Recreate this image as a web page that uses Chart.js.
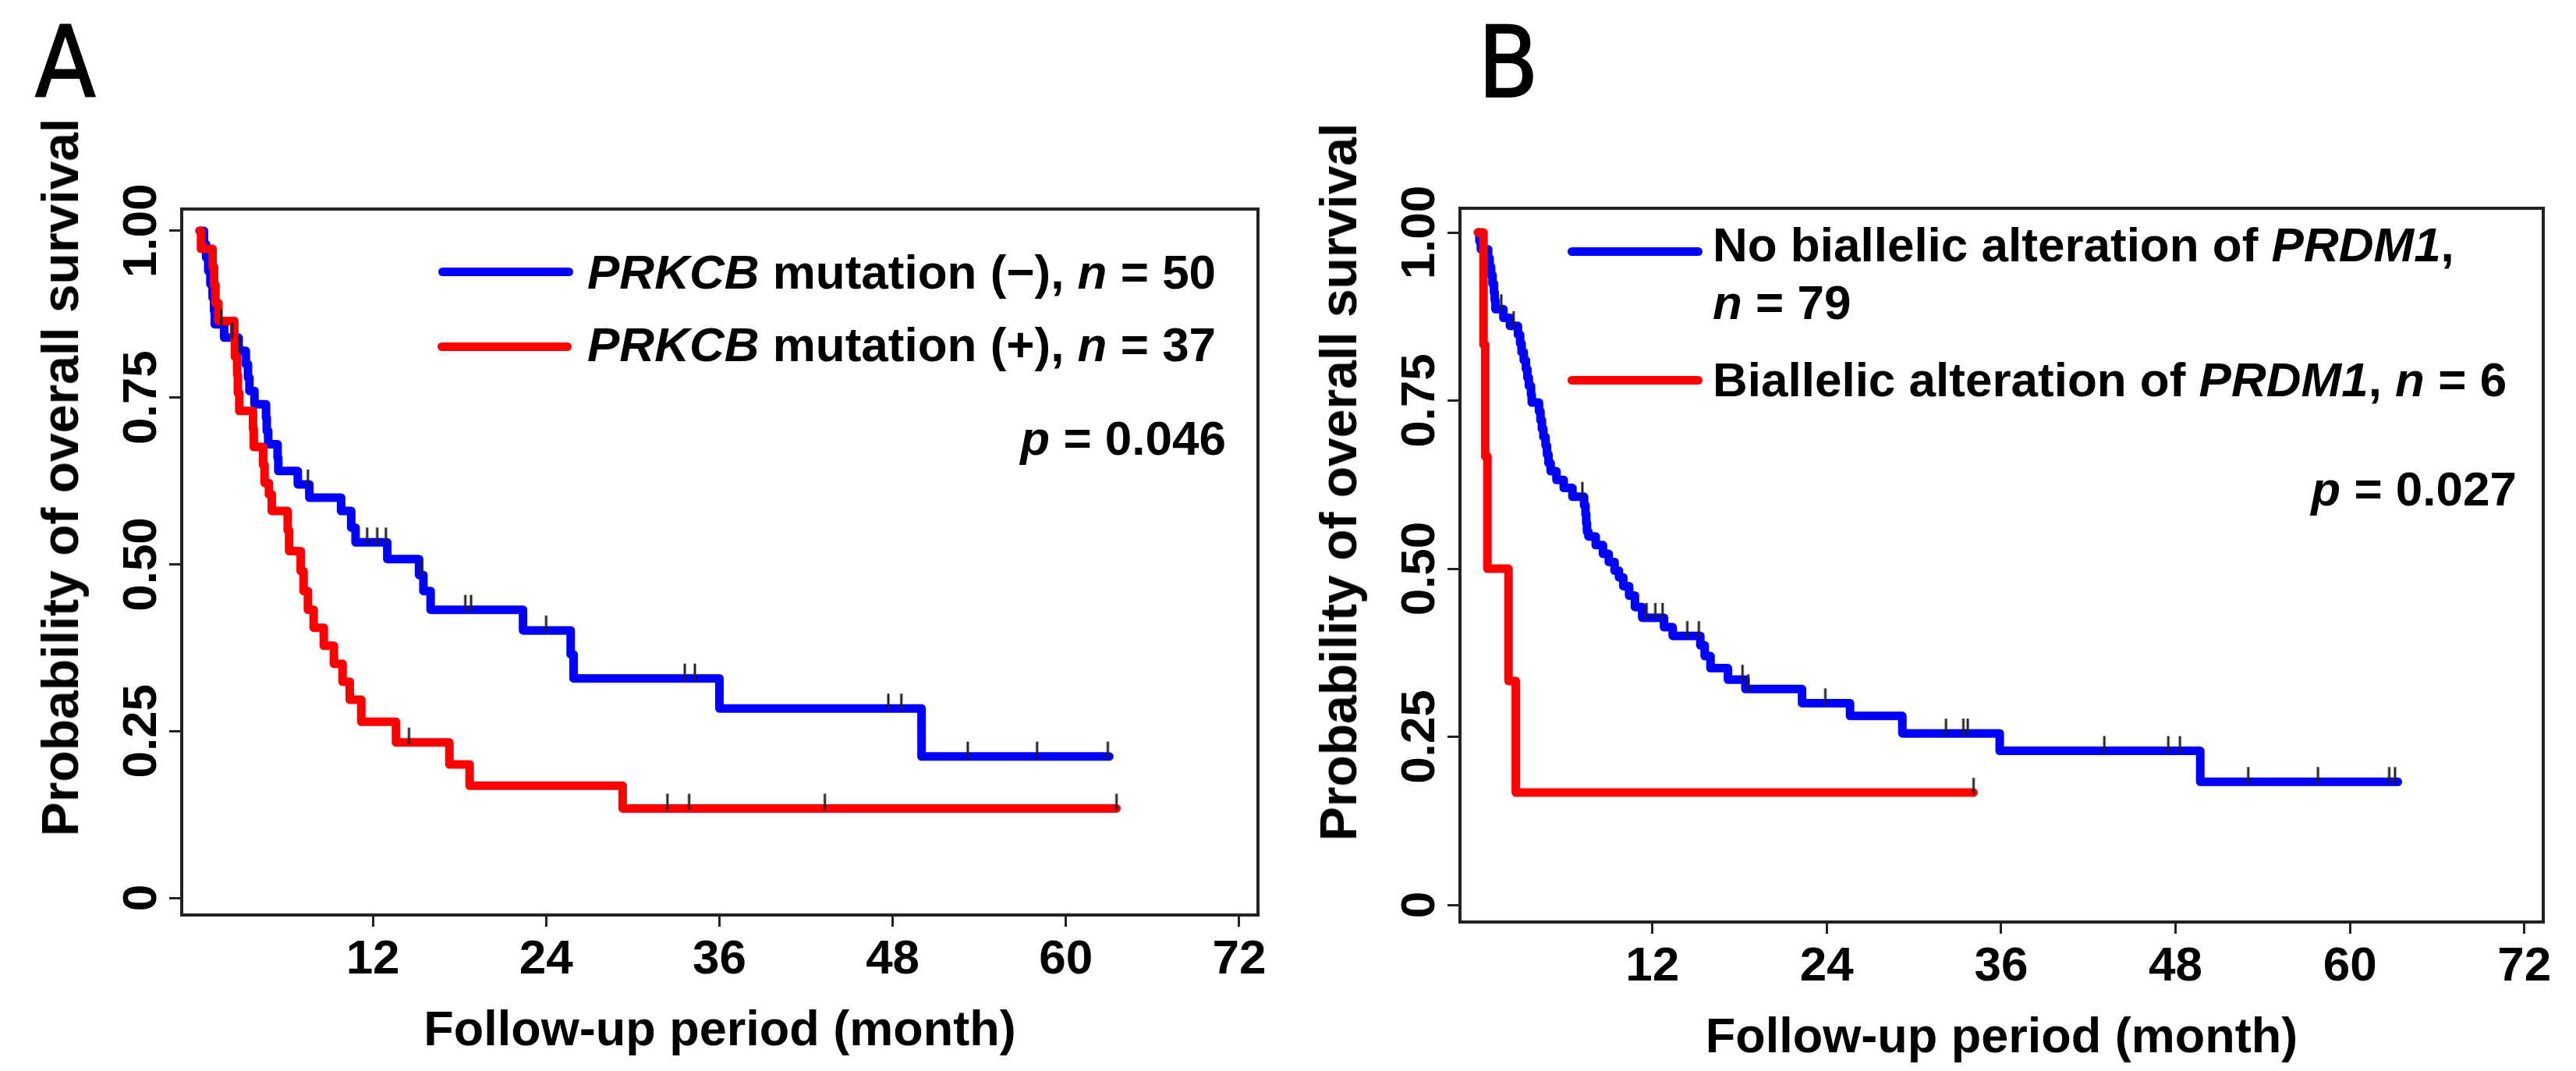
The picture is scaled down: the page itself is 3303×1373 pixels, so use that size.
<!DOCTYPE html>
<html>
<head>
<meta charset="utf-8">
<title>Overall survival</title>
<script src="https://cdn.jsdelivr.net/npm/chart.js@4.4.1/dist/chart.umd.min.js"></script>
<style>
html, body { margin: 0; padding: 0; background: #fff; }
#page { position: relative; width: 3303px; height: 1373px; overflow: hidden; background: #fff;
  font-family: "Liberation Sans", Arial, Helvetica, sans-serif; color: #000; }
.t { position: absolute; white-space: nowrap; font-size: 62px; line-height: 62px; font-weight: bold; }
.yt { position: absolute; white-space: nowrap; font-size: 66px; line-height: 66px; font-weight: bold;
  transform: translate(-50%, -50%) rotate(-90deg); }
.sw { position: absolute; height: 11px; border-radius: 6px; }
.lab { position: absolute; white-space: nowrap; font-family: "Liberation Sans Narrow", "DejaVu Sans Condensed", "Liberation Sans", sans-serif;
  font-stretch: condensed; font-size: 126px; line-height: 126px; font-weight: normal; -webkit-text-stroke: 2px #000; }
canvas { position: absolute; }
</style>
</head>
<body>
<div id="page">
  <div class="lab" style="left:45px;top:18px">A</div>
  <div class="lab" style="left:1895px;top:18px">B</div>

  <div class="yt" style="left:77px;top:612px">Probability of overall survival</div>
  <div class="yt" style="left:1716px;top:618px">Probability of overall survival</div>

  <div class="sw" style="left:562px;top:343px;width:173px;background:#0000ff"></div>
  <div class="t" style="left:753px;top:318px"><i>PRKCB</i> mutation (−), <i>n</i> = 50</div>
  <div class="sw" style="left:561px;top:439px;width:172px;background:#ff0000"></div>
  <div class="t" style="left:753px;top:411px"><i>PRKCB</i> mutation (+), <i>n</i> = 37</div>
  <div class="t" style="right:1731px;top:531px"><i>p</i> = 0.046</div>

  <div class="sw" style="left:2010px;top:317px;width:173px;background:#0000ff"></div>
  <div class="t" style="left:2196px;top:283px">No biallelic alteration of <i>PRDM1</i>,</div>
  <div class="t" style="left:2196px;top:357px"><i>n</i> = 79</div>
  <div class="sw" style="left:2010px;top:482px;width:173px;background:#ff0000"></div>
  <div class="t" style="left:2196px;top:456px">Biallelic alteration of <i>PRDM1</i>, <i>n</i> = 6</div>
  <div class="t" style="right:76px;top:596px"><i>p</i> = 0.027</div>
</div>
<script>
// ---------------- shared axis ticks ----------------
const xTickValues = [12, 24, 36, 48, 60, 72];
const yTickValues = [0, 0.25, 0.5, 0.75, 1];
const yTickLabels = ['0', '0.25', '0.50', '0.75', '1.00'];
const xTitle = 'Follow-up period (month)';

// ---------------- Panel A: PRKCB mutation ----------------
const aNegTime = [0, 0.3, 0.45, 0.6, 0.75, 0.9, 1.0, 1.05, 1.7, 2.7, 3.2, 3.35, 3.45, 3.8, 4.6, 4.65, 4.75, 5.4, 5.45, 6.8, 7.6, 9.8, 10.5, 10.8, 13.0, 15.2, 15.5, 16.0, 22.4, 25.7, 25.9, 36.0, 50.0, 63.0];
const aNegSurv = [1, 0.98, 0.96, 0.94, 0.92, 0.90, 0.88, 0.86, 0.84, 0.82, 0.80, 0.78, 0.76, 0.74, 0.72, 0.70, 0.68, 0.66, 0.64, 0.62, 0.60, 0.58, 0.555, 0.533, 0.508, 0.484, 0.46, 0.432, 0.401, 0.365, 0.329, 0.284, 0.212, 0.212];
const aNegCensor = [1.5, 2.25, 2.75, 7.5, 11.6, 12.3, 12.9, 15.3, 18.4, 18.8, 24.0, 33.6, 34.3, 47.7, 48.6, 53.2, 58.0, 62.9];

const aPosTime = [0, 0.1, 0.9, 1.0, 1.1, 1.3, 2.4, 2.45, 2.6, 2.65, 2.75, 3.7, 3.75, 4.4, 4.5, 4.8, 5.0, 6.1, 6.2, 7.0, 7.2, 7.5, 7.9, 8.6, 9.3, 9.9, 10.4, 11.2, 13.6, 17.3, 18.7, 29.3, 63.5];
const aPosSurv = [1, 0.973, 0.946, 0.919, 0.892, 0.865, 0.838, 0.811, 0.784, 0.757, 0.730, 0.703, 0.676, 0.649, 0.622, 0.605, 0.58, 0.551, 0.52, 0.49, 0.46, 0.432, 0.405, 0.378, 0.351, 0.324, 0.297, 0.264, 0.233, 0.200, 0.168, 0.134, 0.134];
const aPosCensor = [14.5, 32.4, 33.9, 43.3, 63.5];

// ---------------- Panel B: PRDM1 biallelic alteration ----------------
const bNoTime = [0, 0.1, 0.2, 0.7, 0.8, 0.9, 1.0, 1.1, 1.15, 1.2,
  1.75, 2.2, 2.75, 2.9, 3.0, 3.15, 3.3, 3.4, 3.5, 3.65,
  3.7, 4.2, 4.3, 4.4, 4.5, 4.65, 4.75, 4.85, 5.0, 5.4,
  5.9, 6.5, 7.3, 7.4, 7.45, 7.5, 7.6, 8.1, 8.6, 9.0,
  9.4, 9.7, 10.0, 10.4, 10.8, 11.3, 12.8, 13.4, 15.3, 15.6,
  16.0, 17.2, 18.4, 22.3, 25.6, 29.2, 35.9, 49.7, 63.3];
const bNoSurv = [1, 0.987, 0.975, 0.962, 0.949, 0.937, 0.924, 0.911, 0.899, 0.886,
  0.873, 0.861, 0.848, 0.835, 0.822, 0.810, 0.797, 0.784, 0.772, 0.759,
  0.747, 0.734, 0.721, 0.708, 0.696, 0.683, 0.670, 0.657, 0.645, 0.632,
  0.620, 0.607, 0.594, 0.581, 0.568, 0.555, 0.548, 0.535, 0.522, 0.510,
  0.497, 0.487, 0.474, 0.460, 0.443, 0.427, 0.413, 0.400, 0.386, 0.370,
  0.352, 0.335, 0.321, 0.300, 0.281, 0.255, 0.229, 0.183, 0.183];
const bNoCensor = [1.6, 2.45, 7.18, 11.6, 12.2, 12.7, 14.4, 15.2, 18.2, 18.6, 23.9, 32.2, 33.4, 33.7, 43.1, 47.5, 48.3, 53.0, 57.8, 62.7, 63.1];

const bBiTime = [0, 0.38, 0.5, 0.65, 2.1, 2.6, 34.1];
const bBiSurv = [1, 0.833, 0.667, 0.5, 0.333, 0.167, 0.167];
const bBiCensor = [34.1];

// ---------------- helpers ----------------
const FONT = '"Liberation Sans", Arial, Helvetica, sans-serif';
const FS = 62;
Chart.defaults.font.family = FONT;
Chart.defaults.color = '#000';
Chart.defaults.animation = false;

function kmPoints(t, s) { return t.map((v, i) => ({ x: v, y: s[i] })); }
function survAt(t, s, time) { let v = s[0]; for (let i = 0; i < t.length; i++) { if (t[i] <= time) v = s[i]; } return v; }
function censorPoints(t, s, c) { return c.map(ct => ({ x: ct, y: survAt(t, s, ct) })); }

// censor mark: short vertical tick sitting on top of the curve
const censorMark = (function () {
  const c = document.createElement('canvas');
  c.width = 6; c.height = 44;
  const g = c.getContext('2d');
  g.strokeStyle = '#222'; g.lineWidth = 3; g.lineCap = 'butt';
  g.beginPath(); g.moveTo(3, 3); g.lineTo(3, 24); g.stroke();
  return c;
})();

const boxPlugin = {
  id: 'plotBox',
  beforeDatasetsDraw(chart) {
    const { ctx, chartArea: a } = chart;
    ctx.save();
    ctx.strokeStyle = '#222'; ctx.lineWidth = 4;
    ctx.strokeRect(a.left, a.top, a.right - a.left, a.bottom - a.top);
    ctx.restore();
  }
};

// y tick labels rotated 90 degrees (as in the R original), placed at the y scale's tick pixels
const yLabelPlugin = {
  id: 'yRotLabels',
  afterDraw(chart) {
    const { ctx, chartArea: a } = chart;
    const ys = chart.scales.y;
    ctx.save();
    ctx.font = 'bold ' + FS + 'px ' + FONT;
    ctx.fillStyle = '#000';
    ctx.textAlign = 'center';
    ctx.textBaseline = 'alphabetic';
    ys.ticks.forEach((tk, i) => {
      const py = ys.getPixelForValue(tk.value);
      ctx.save();
      ctx.translate(a.left - 33, py);
      ctx.rotate(-Math.PI / 2);
      ctx.fillText(yTickLabels[i], 0, 0);
      ctx.restore();
    });
    ctx.restore();
  }
};

function makeConfig(series, range) {
  const datasets = [];
  series.forEach((s) => {
    datasets.push({
      label: s.name + ' censored', data: censorPoints(s.t, s.s, s.c), showLine: false,
      pointStyle: censorMark, pointRadius: 10, pointHoverRadius: 10, order: 0
    });
    datasets.push({
      label: s.name, data: kmPoints(s.t, s.s), borderColor: s.color, backgroundColor: s.color,
      borderWidth: 11, stepped: 'before', pointRadius: 0, pointHoverRadius: 0, fill: false,
      borderCapStyle: 'round', borderJoinStyle: 'round', order: s.order
    });
  });
  const tickFont = { size: FS, weight: 'bold' };
  return {
    type: 'line',
    data: { datasets },
    options: {
      responsive: false, maintainAspectRatio: false, animation: false, devicePixelRatio: 1,
      layout: { padding: { left: 130, right: 40, top: 50, bottom: 20 } },
      plugins: { legend: { display: false }, tooltip: { enabled: false } },
      events: [],
      scales: {
        x: {
          type: 'linear', min: range.xMin, max: range.xMax,
          afterBuildTicks: sc => { sc.ticks = xTickValues.map(v => ({ value: v })); },
          ticks: { font: tickFont, color: '#000', padding: 6, maxRotation: 0, minRotation: 0, autoSkip: false, callback: v => String(v) },
          grid: { display: true, drawOnChartArea: false, drawTicks: true, tickLength: 15, tickWidth: 3, tickColor: '#222' },
          border: { display: false },
          title: { display: true, text: xTitle, font: { size: 63, weight: 'bold' }, color: '#000', padding: { top: 10, bottom: 0 } }
        },
        y: {
          type: 'linear', min: range.yMin, max: range.yMax,
          afterBuildTicks: sc => { sc.ticks = yTickValues.map(v => ({ value: v })); },
          ticks: { display: false, autoSkip: false },
          grid: { display: true, drawOnChartArea: false, drawTicks: true, tickLength: 16, tickWidth: 3, tickColor: '#222' },
          border: { display: false },
          title: { display: false }
        }
      }
    },
    plugins: [boxPlugin, yLabelPlugin]
  };
}

function buildPanel(box, series, range) {
  const page = document.getElementById('page');
  const W0 = box.r - box.l + 500, H0 = box.b - box.t + 500;
  let cv = document.createElement('canvas');
  cv.width = W0; cv.height = H0; cv.style.width = W0 + 'px'; cv.style.height = H0 + 'px';
  cv.style.left = '0px'; cv.style.top = '0px';
  page.appendChild(cv);
  let ch = new Chart(cv, makeConfig(series, range));
  const a = ch.chartArea;
  const eL = a.left, eT = a.top, eR = W0 - a.right, eB = H0 - a.bottom;
  ch.destroy(); page.removeChild(cv);
  const W = Math.round(box.r - box.l + eL + eR), H = Math.round(box.b - box.t + eT + eB);
  cv = document.createElement('canvas');
  cv.width = W; cv.height = H; cv.style.width = W + 'px'; cv.style.height = H + 'px';
  cv.style.left = Math.round(box.l - eL) + 'px'; cv.style.top = Math.round(box.t - eT) + 'px';
  page.insertBefore(cv, page.firstChild);
  return new Chart(cv, makeConfig(series, range));
}

buildPanel({ l: 233, t: 268, r: 1613, b: 1173 }, [
  { name: 'PRKCB mutation (-)', t: aNegTime, s: aNegSurv, c: aNegCensor, color: '#0000ff', order: 2 },
  { name: 'PRKCB mutation (+)', t: aPosTime, s: aPosSurv, c: aPosCensor, color: '#ff0000', order: 1 }
], { xMin: -1.24, xMax: 73.3, yMin: -0.0257, yMax: 1.0327 });

buildPanel({ l: 1872, t: 267, r: 3261, b: 1182 }, [
  { name: 'No biallelic alteration of PRDM1', t: bNoTime, s: bNoSurv, c: bNoCensor, color: '#0000ff', order: 2 },
  { name: 'Biallelic alteration of PRDM1', t: bBiTime, s: bBiSurv, c: bBiCensor, color: '#ff0000', order: 1 }
], { xMin: -1.24, xMax: 73.3, yMin: -0.0255, yMax: 1.036 });
</script>
</body>
</html>
